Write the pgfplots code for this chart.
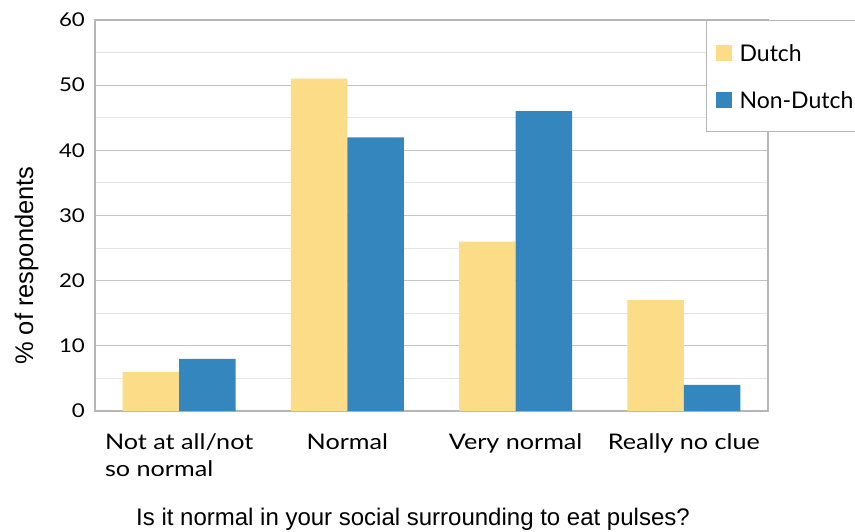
\documentclass[border=0pt]{standalone}
\usepackage{fontspec}
\setmainfont{Lato}
\newfontfamily\widelato{Lato}[FakeStretch=1.17]
\newfontfamily\arialfont{Liberation Sans}
\usepackage{pgfplots}
\pgfplotsset{compat=1.18}

\definecolor{dutch}{HTML}{FDDC88}
\definecolor{nondutch}{HTML}{3387BE}
\definecolor{framegray}{HTML}{B6B6B6}
\definecolor{majorgrid}{HTML}{C4C4C4}
\definecolor{minorgrid}{HTML}{E4E4E4}

\begin{document}
\begin{tikzpicture}[x=1pt,y=1pt]
\clip (-95,-120) rectangle (760,411);
\path[use as bounding box] (-95,-120) rectangle (760,411);
\begin{axis}[
  scale only axis, width=673pt, height=391pt,
  ybar=0pt, bar width=56.5pt,
  xmin=-0.5, xmax=3.5, ymin=0, ymax=60,
  xtick={0,1,2,3},
  xticklabels={{Not at all/not\\so normal},Normal,Very normal,Really no clue},
  xticklabel style={align=left, anchor=north, inner sep=0pt, yshift=-22.5pt,
    font=\widelato\fontsize{21.5}{27}\selectfont},
  ytick={0,10,...,60}, minor ytick={5,15,...,55},
  yticklabel style={anchor=east, inner sep=0pt, xshift=-10pt,
    font=\widelato\fontsize{19}{22}\selectfont},
  /pgf/number format/assume math mode=true,
  ymajorgrids, yminorgrids,
  major grid style={majorgrid, line width=1pt},
  minor grid style={minorgrid, line width=1pt},
  major tick length=0pt, minor tick length=0pt,
  axis line style={framegray, line width=1.6pt},
  xlabel={Is it normal in your social surrounding to eat pulses?},
  ylabel={\% of respondents},
  xlabel style={at={(axis description cs:0.4725,-0.2916)}, anchor=base,
    font=\arialfont\fontsize{24}{28}\selectfont},
  ylabel style={at={(axis description cs:-0.0921,0.372)}, anchor=base, rotate=0,
    font=\arialfont\fontsize{25.5}{30}\selectfont},
  legend cell align=left,
  legend image code/.code={\fill[#1] (0pt,0pt) rectangle (16pt,16pt);},
  legend style={at={(axis description cs:0.908,1)}, anchor=north west,
    draw=framegray, line width=1pt, fill=white,
    inner xsep=9pt, inner ysep=23.5pt, row sep=30pt,
    font=\fontsize{23}{27}\selectfont,
    nodes={inner sep=0pt, text height=17pt, text depth=0pt, anchor=base west},
    /tikz/every odd column/.append style={column sep=8pt}},
]
\addplot[fill=dutch, draw=none] coordinates {(0,6) (1,51) (2,26) (3,17)};
\addplot[fill=nondutch, draw=none] coordinates {(0,8) (1,42) (2,46) (3,4)};
\legend{Dutch,Non-Dutch}
\end{axis}
\end{tikzpicture}
\end{document}
